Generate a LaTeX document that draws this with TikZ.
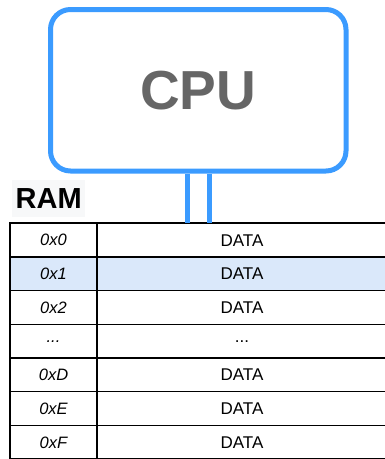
\documentclass[tikz,border=0pt]{standalone}
\usepackage{fontspec}
\setmainfont{Liberation Sans}
\usetikzlibrary{positioning}
\definecolor{cpublue}{RGB}{59,155,255}
\definecolor{cpugray}{RGB}{102,102,102}
\definecolor{rowblue}{RGB}{218,232,250}
\definecolor{ramgray}{RGB}{247,248,249}

\begin{document}
\begin{tikzpicture}[
    x=1pt, y=-1pt,
    node distance=0pt and 0pt, % cells touch each other
    cpubox/.style={
        rectangle,
        draw=cpublue,
        line width=5pt,
        rounded corners=20pt,
        minimum width=295.5pt,
        minimum height=161.5pt,
        text=cpugray,
        font=\fontsize{55}{60}\selectfont\bfseries
    },
    bus/.style={draw=cpublue, line width=5pt},
    ramlabel/.style={
        fill=ramgray,
        minimum width=73pt,
        minimum height=37pt,
        inner sep=0pt,
        font=\fontsize{29}{32}\selectfont\bfseries
    },
    addr/.style={
        rectangle,
        draw=black,
        line width=1.3pt,
        minimum width=87pt,
        minimum height=33.7pt,
        inner sep=0pt,
        outer sep=0pt,
        font=\fontsize{16.5}{18}\selectfont\itshape
    },
    cell/.style={addr, minimum width=290pt, font=\fontsize{17}{19}\selectfont},
    hilite/.style={fill=rowblue}
]
\useasboundingbox (0,0) rectangle (384,459);

% ========== CPU ==========
\node[cpubox] (cpu) at (198.25,90.25) {CPU};

% ========== RAM table ==========
\node[addr, anchor=north west] (a0) at (10,223.3) {0x0};
\node[cell, right=of a0] (d0) {DATA};
\node[addr, hilite, below=of a0] (a1) {0x1};
\node[cell, hilite, right=of a1] (d1) {DATA};
\node[addr, below=of a1] (a2) {0x2};
\node[cell, right=of a2] (d2) {DATA};
\node[addr, below=of a2] (a3) {...};
\node[cell, right=of a3] (d3) {...};
\node[addr, below=of a3] (a4) {0xD};
\node[cell, right=of a4] (d4) {DATA};
\node[addr, below=of a4] (a5) {0xE};
\node[cell, right=of a5] (d5) {DATA};
\node[addr, below=of a5] (a6) {0xF};
\node[cell, right=of a6] (d6) {DATA};

% outer frame
\draw[line width=1.8pt] (a0.north west) rectangle (d6.south east);

% label
\node[ramlabel, anchor=south west] (ram) at ([xshift=2pt, yshift=6pt]a0.north west) {RAM};

% ========== bus between CPU and RAM ==========
\coordinate (busl) at ([xshift=-10.75pt]cpu.south);
\coordinate (busr) at ([xshift=10.75pt]cpu.south);
\draw[bus] (busl) -- (busl |- d0.north);
\draw[bus] (busr) -- (busr |- d0.north);

\end{tikzpicture}
\end{document}
